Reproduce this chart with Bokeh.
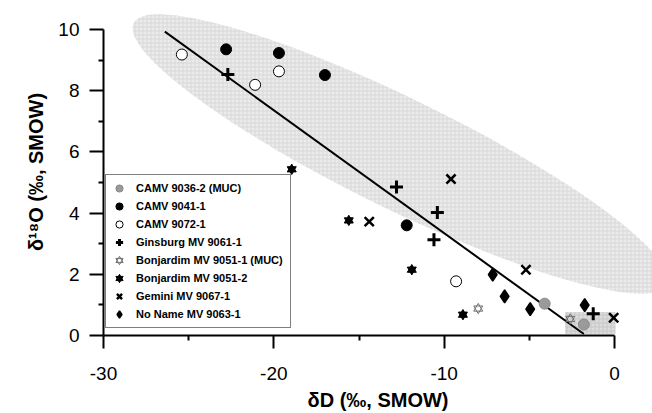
from bokeh.plotting import figure
from bokeh.models import Range1d, FixedTicker, Legend, LegendItem, CustomJSTickFormatter
from bokeh.embed import file_html
from bokeh.resources import INLINE

# ---- data (dD, d18O in permil SMOW) ----
camv_9036_dD = [-4.1, -1.8]
camv_9036_O = [1.04, 0.36]
camv_9041_dD = [-22.8, -19.7, -17.0, -12.2]
camv_9041_O = [9.35, 9.23, 8.51, 3.60]
camv_9072_dD = [-25.4, -21.1, -19.7, -9.3]
camv_9072_O = [9.18, 8.19, 8.63, 1.77]
ginsburg_dD = [-22.7, -12.8, -10.4, -10.6, -1.25]
ginsburg_O = [8.53, 4.85, 4.02, 3.13, 0.71]
bonj1_dD = [-8.0, -2.6]
bonj1_O = [0.88, 0.54]
bonj2_dD = [-18.95, -15.6, -11.9, -8.9]
bonj2_O = [5.43, 3.76, 2.15, 0.68]
gemini_dD = [-9.6, -14.4, -5.2, -0.05]
gemini_O = [5.11, 3.72, 2.15, 0.58]
noname_dD = [-7.15, -6.45, -4.95, -1.75]
noname_O = [1.99, 1.28, 0.86, 0.99]

fit_dD = [-26.4, -1.8]
fit_O = [9.93, 0.05]

field_cx = [-12.57]
field_cy = [5.93]
field_w_px = [594]
field_h_px = [110]
field_angle = [-26.1]
box_dD = [-2.9, 0.05]
box_O = [0.05, 0.77]

x_ticks = [-30, -20, -10, 0]
y_ticks = [0, 2, 4, 6, 8, 10]

labels = ["CAMV 9036-2 (MUC)", "CAMV 9041-1", "CAMV 9072-1", "Ginsburg MV 9061-1",
          "Bonjardim MV 9051-1 (MUC)", "Bonjardim MV 9051-2", "Gemini MV 9067-1",
          "No Name MV 9063-1"]

FONT = "Liberation Sans"

p = figure(width=652, height=413, output_backend="svg", toolbar_location=None,
           x_range=Range1d(-30, 2.23), y_range=Range1d(0, 10.684),
           min_border_left=103, min_border_right=0, min_border_top=8, min_border_bottom=77)
p.outline_line_color = None
p.grid.visible = False
p.background_fill_color = "white"
p.border_fill_color = "white"

# shaded fields
p.ellipse(x=field_cx, y=field_cy, width=field_w_px, height=field_h_px, angle=field_angle,
          width_units="screen", height_units="screen", angle_units="deg",
          fill_color="#ececec", line_color=None,
          hatch_pattern="+", hatch_color="#d8d8d8", hatch_scale=4, hatch_weight=1)
p.quad(left=[box_dD[0]], right=[box_dD[1]], bottom=[box_O[0]], top=[box_O[1]],
       fill_color="#dcdcdc", line_color=None,
       hatch_pattern="+", hatch_color="#c8c8c8", hatch_scale=4, hatch_weight=1)

# regression line
p.line(fit_dD, fit_O, line_color="black", line_width=2)

r1 = p.scatter(camv_9036_dD, camv_9036_O, marker="circle", size=11,
               fill_color="#9a9a9a", line_color="#8a8a8a", line_width=1)
r2 = p.scatter(camv_9041_dD, camv_9041_O, marker="circle", size=11,
               fill_color="black", line_color="black")
r3 = p.scatter(camv_9072_dD, camv_9072_O, marker="circle", size=11,
               fill_color="white", line_color="black", line_width=1)
r4 = p.scatter(ginsburg_dD, ginsburg_O, marker="cross", size=13,
               line_color="black", line_width=3)
r5a = p.scatter(bonj1_dD, bonj1_O, marker="triangle", size=9,
                fill_color=None, line_color="#707070", line_width=1)
r5b = p.scatter(bonj1_dD, bonj1_O, marker="inverted_triangle", size=9,
                fill_color=None, line_color="#707070", line_width=1)
r6a = p.scatter(bonj2_dD, bonj2_O, marker="triangle", size=9,
                fill_color="black", line_color="black")
r6b = p.scatter(bonj2_dD, bonj2_O, marker="inverted_triangle", size=9,
                fill_color="black", line_color="black")
r7 = p.scatter(gemini_dD, gemini_O, marker="x", size=13,
               line_color="black", line_width=2.5)
r8 = p.scatter(noname_dD, noname_O, marker="diamond", size=13,
               fill_color="black", line_color="black", line_width=1.5)

items = [LegendItem(label=labels[0], renderers=[r1]),
         LegendItem(label=labels[1], renderers=[r2]),
         LegendItem(label=labels[2], renderers=[r3]),
         LegendItem(label=labels[3], renderers=[r4]),
         LegendItem(label=labels[4], renderers=[r5a, r5b]),
         LegendItem(label=labels[5], renderers=[r6a, r6b]),
         LegendItem(label=labels[6], renderers=[r7]),
         LegendItem(label=labels[7], renderers=[r8])]
legend = Legend(items=items, location=(2, 7), orientation="vertical",
                label_text_font=FONT, label_text_font_size="11px",
                label_text_font_style="bold", label_text_color="black",
                glyph_width=18, glyph_height=18, label_height=18, spacing=0,
                label_standoff=8, padding=4, margin=0,
                border_line_color="black", border_line_width=1,
                background_fill_color="white", background_fill_alpha=1)
legend.label_width = 150
p.add_layout(legend, "center")

for ax in (p.xaxis[0], p.yaxis[0]):
    ax.axis_line_width = 2
    ax.axis_line_color = "black"
    ax.major_tick_line_width = 2
    ax.minor_tick_line_width = 2
    ax.major_tick_in = 0
    ax.minor_tick_in = 0
    ax.minor_tick_out = 5
    ax.major_label_text_font = FONT
    ax.major_label_text_font_size = "19px"
    ax.major_label_text_color = "black"
    ax.axis_label_text_font = FONT
    ax.axis_label_text_font_size = "20px"
    ax.axis_label_text_font_style = "bold"
    ax.axis_label_text_color = "black"
    ax.formatter = CustomJSTickFormatter(code="return tick.toString();")

p.xaxis[0].ticker = FixedTicker(ticks=x_ticks, minor_ticks=[-25, -15, -5])
p.yaxis[0].ticker = FixedTicker(ticks=y_ticks, minor_ticks=[1, 3, 5, 7, 9])
p.xaxis[0].bounds = (-30, 0)
p.yaxis[0].bounds = (0, 10)
p.xaxis[0].major_tick_out = 13
p.yaxis[0].major_tick_out = 14
p.xaxis[0].major_label_standoff = 18
p.yaxis[0].major_label_standoff = 10
p.xaxis[0].axis_label = "δD (‰, SMOW)"
p.yaxis[0].axis_label = "δ¹⁸O (‰, SMOW)"
p.xaxis[0].axis_label_standoff = 6
p.yaxis[0].axis_label_standoff = 8

open("out.html", "w").write(file_html(p, INLINE))
